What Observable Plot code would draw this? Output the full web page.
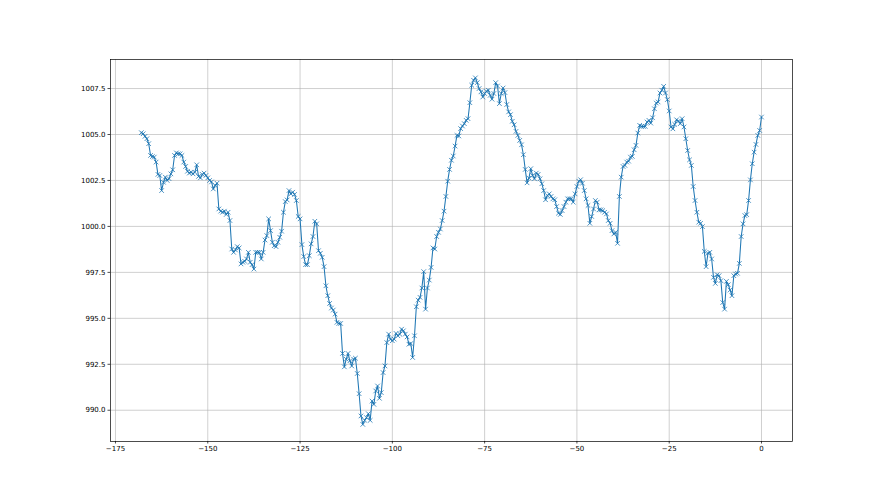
<!DOCTYPE html>
<html>
<head>
<meta charset="utf-8">
<script src="https://cdn.jsdelivr.net/npm/d3@7"></script>
<script src="https://cdn.jsdelivr.net/npm/@observablehq/plot@0.6"></script>
<style>
  html, body { margin: 0; padding: 0; background: #ffffff; }
  #chart svg { display: block; }
</style>
</head>
<body>
<div id="chart"></div>
<script>
// Hours before now (half-hourly from -168 to 0)
const startHour = -168;
const stepHours = 0.5;

// Pressure readings (hPa), one per half hour
const pressure = [
  1005.10, 1005.04, 1004.90, 1004.77, 1004.50, 1003.86, 1003.80, 1003.77, 1003.50, 1002.83,
  1002.77, 1001.95, 1002.40, 1002.68, 1002.50, 1002.60, 1002.86, 1003.08, 1003.86, 1004.00,
  1003.95, 1003.95, 1003.86, 1003.50, 1003.26, 1003.00, 1002.90, 1002.95, 1002.86, 1002.95,
  1003.35, 1002.72, 1002.64, 1002.83, 1002.90, 1002.77, 1002.64, 1002.50, 1002.42, 1002.04,
  1002.23, 1002.35, 1000.95, 1000.83, 1000.77, 1000.83, 1000.65, 1000.77, 1000.32, 998.77,
  998.59, 998.72, 998.90, 998.83, 997.96, 998.05, 998.10, 998.23, 998.59, 998.05,
  997.92, 997.68, 998.59, 998.59, 998.59, 998.23, 998.59, 999.26, 999.50, 1000.41,
  999.77, 999.14, 998.95, 998.90, 999.14, 999.41, 999.74, 1000.77, 1001.35, 1001.44,
  1001.95, 1001.77, 1001.86, 1001.74, 1001.41, 1000.54, 1000.41, 999.01, 998.36, 997.92,
  997.92, 998.41, 999.05, 999.45, 1000.28, 1000.14, 998.68, 998.54, 998.32, 997.81,
  996.77, 996.23, 995.81, 995.56, 995.45, 995.23, 994.78, 994.72, 994.72, 993.09,
  992.36, 992.78, 993.09, 992.69, 992.41, 992.78, 992.83, 992.00, 990.90, 989.69,
  989.23, 989.45, 989.60, 989.81, 989.45, 990.50, 990.32, 991.05, 991.32, 990.65,
  990.96, 992.05, 992.41, 993.68, 994.14, 993.87, 993.78, 993.87, 994.18, 994.05,
  994.14, 994.41, 994.32, 994.14, 993.99, 993.59, 993.63, 992.87, 994.05, 995.63,
  995.99, 996.14, 996.65, 997.54, 995.50, 996.65, 997.08, 997.77, 998.83, 998.77,
  999.45, 999.68, 999.86, 1000.32, 1000.83, 1001.63, 1002.46, 1003.10, 1003.60, 1003.83,
  1004.37, 1004.95, 1004.92, 1005.32, 1005.46, 1005.59, 1005.77, 1005.86, 1006.73, 1007.68,
  1007.95, 1008.08, 1007.82, 1007.50, 1007.32, 1007.04, 1007.23, 1007.35, 1007.41, 1007.13,
  1006.92, 1007.23, 1007.82, 1007.64, 1006.68, 1007.23, 1007.53, 1007.28, 1006.63, 1006.23,
  1006.08, 1005.72, 1005.53, 1005.17, 1004.95, 1004.68, 1004.44, 1003.90, 1003.10, 1002.37,
  1002.63, 1003.14, 1002.77, 1002.59, 1002.90, 1002.83, 1002.59, 1002.32, 1001.95, 1001.45,
  1001.68, 1001.77, 1001.63, 1001.50, 1001.45, 1001.08, 1000.72, 1000.65, 1000.86, 1001.08,
  1001.32, 1001.50, 1001.50, 1001.50, 1001.32, 1001.77, 1002.17, 1002.46, 1002.54, 1002.35,
  1001.95, 1001.50, 1001.14, 1000.17, 1000.54, 1000.95, 1001.41, 1001.32, 1000.90, 1000.90,
  1000.86, 1000.77, 1000.68, 1000.32, 1000.17, 999.77, 999.59, 999.68, 999.08, 1001.63,
  1002.68, 1003.26, 1003.32, 1003.50, 1003.55, 1003.77, 1003.81, 1004.17, 1004.41, 1005.08,
  1005.50, 1005.44, 1005.44, 1005.44, 1005.68, 1005.77, 1005.62, 1005.91, 1006.40, 1006.71,
  1006.77, 1007.26, 1007.41, 1007.62, 1007.26, 1006.90, 1006.28, 1005.41, 1005.31, 1005.55,
  1005.80, 1005.73, 1005.59, 1005.86, 1005.41, 1004.77, 1004.13, 1003.62, 1003.32, 1002.17,
  1001.41, 1000.77, 1000.23, 1000.17, 999.99, 998.64, 997.81, 998.54, 998.59, 998.23,
  997.23, 996.90, 997.37, 997.32, 997.05, 995.86, 995.50, 997.01, 996.83, 996.54,
  996.23, 997.32, 997.41, 997.45, 997.99, 999.45, 1000.14, 1000.59, 1000.64, 1001.41,
  1002.53, 1003.41, 1004.04, 1004.46, 1004.95, 1005.22, 1005.95
];

// Axis ticks
const xTicks = [-175, -150, -125, -100, -75, -50, -25, 0];
const yTicks = [990.0, 992.5, 995.0, 997.5, 1000.0, 1002.5, 1005.0, 1007.5];

const data = pressure.map((p, i) => ({hour: startHour + i * stepHours, p}));

const blue = "#1f77b4";
const fmtX = d3.format("d");
const fmtY = d3.format(".1f");

const chart = Plot.plot({
  width: 880,
  height: 495,
  marginLeft: 110,
  marginRight: 88,
  marginTop: 59,
  marginBottom: 54,
  style: {fontFamily: "'DejaVu Sans', sans-serif", background: "#ffffff", color: "#000"},
  x: {domain: [-176.35, 8.4], ticks: xTicks},
  y: {domain: [988.3, 1009.08], ticks: yTicks},
  marks: [
    Plot.gridX(xTicks, {stroke: "#b0b0b0", strokeOpacity: 1, strokeWidth: 0.6}),
    Plot.gridY(yTicks, {stroke: "#b0b0b0", strokeOpacity: 1, strokeWidth: 0.6}),
    Plot.line(data, {x: "hour", y: "p", stroke: blue, strokeWidth: 1.05}),
    Plot.dot(data, {x: "hour", y: "p", symbol: "times", r: 2.2, stroke: blue, strokeWidth: 0.8}),
    Plot.frame({stroke: "#000", strokeWidth: 0.7}),
    Plot.axisX(xTicks, {tickSize: 2.5, tickPadding: 2.5, fontSize: 7, tickFormat: fmtX, label: null, strokeWidth: 0.7}),
    Plot.axisY(yTicks, {tickSize: 2.5, tickPadding: 2.5, fontSize: 7, tickFormat: fmtY, label: null, strokeWidth: 0.7})
  ]
});

document.getElementById("chart").appendChild(chart);
</script>
</body>
</html>
